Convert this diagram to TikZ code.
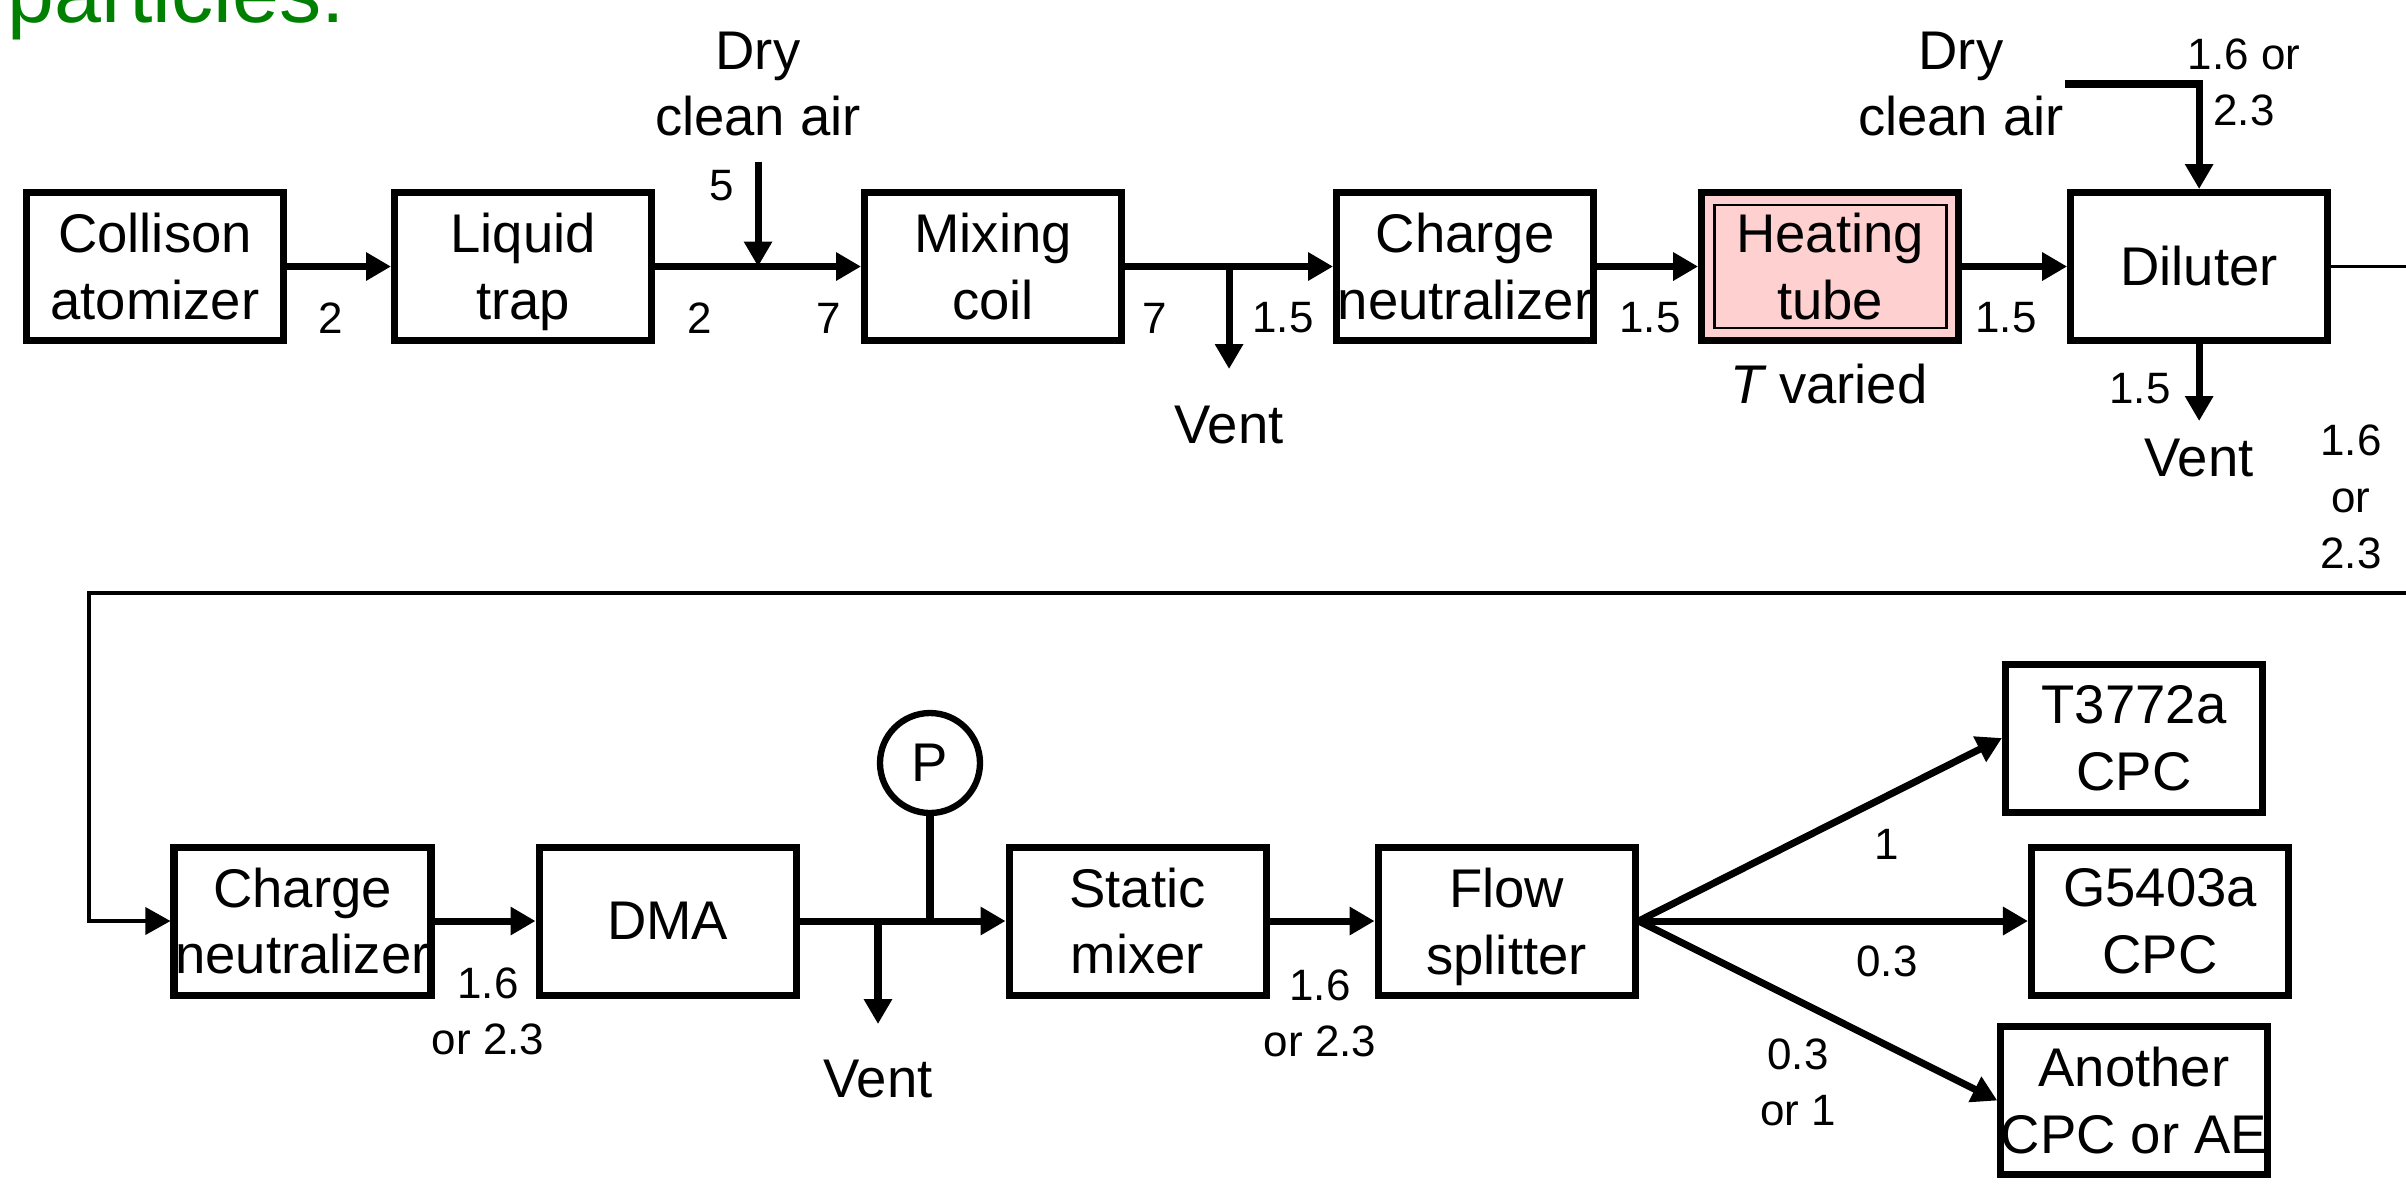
\documentclass[tikz,border=0pt]{standalone}
\usepackage{fontspec}
\setmainfont{Liberation Sans}
\usepackage{tikz}
\usetikzlibrary{arrows.meta, positioning, calc}

\definecolor{heatpink}{RGB}{255,208,208}
\definecolor{titlegreen}{RGB}{0,128,0}

\begin{document}
\begin{tikzpicture}[
			box/.style={draw, line width=2pt, minimum width=2.57cm, minimum height=1.48cm,
				inner sep=0pt, align=center, font=\fontsize{15.5}{19}\selectfont},
			flow/.style={line width=2pt, -{Triangle[length=2.5mm,width=2.7mm]}},
			lab/.style={inner sep=0pt, align=center, font=\fontsize{12.5}{16}\selectfont},
			txt/.style={inner sep=0pt, align=center, font=\fontsize{15.5}{19}\selectfont}
			]
			\path[use as bounding box, clip] (0,0) rectangle (24.06,-11.85);
			\node[anchor=base west, inner sep=0pt, text=titlegreen, font=\fontsize{24}{28}\selectfont] (title) at (0.065,-0.22) {particles:};
			% Prima riga
			\node[box] (CA) at (1.55,-2.665) {Collison\\atomizer};
			\node[box, right=1.04cm of CA] (LT) {Liquid\\\smash{trap}};
			\node[box, right=2.06cm of LT] (MC) {Mixing\\coil};
			\node[box, right=2.08cm of MC] (CN1) {Charge\\neutralizer};
			\node[box, right=1.01cm of CN1, fill=heatpink] (HT) {Heating\\tube};
			\node[box, right=1.05cm of HT] (D) {Diluter};
			\draw[line width=0.8pt] ([shift={(0.16,-0.16)}]HT.north west) rectangle ([shift={(-0.16,0.16)}]HT.south east);
			\node[txt] (Tv) at (18.29,-3.84) {{\itshape T} varied};
			% aria e sfiati della prima riga
			\coordinate (J1) at ($(LT.east)!0.5!(MC.west)$);
			\coordinate (J2) at ($(MC.east)!0.5!(CN1.west)$);
			\coordinate (A1) at (J1 |- 0,-1.62);
			\coordinate (V1t) at (J2 |- 0,-3.69);
			\coordinate (A2) at (20.65,-0.84);
			\coordinate (V2t) at (D.south |- 0,-4.21);
			\node[txt] (air1) at (7.58,-0.84) {Dry\\clean air};
			\node[txt] (air2) at (19.61,-0.84) {Dry\\clean air};
			\node[txt] (V1) at (J2 |- 0,-4.25) {Vent};
			\node[txt] (V2) at (D.south |- 0,-4.58) {Vent};
			\draw[flow] (CA) -- (LT);
			\draw[flow] (LT) -- (MC);
			\draw[flow] (A1) -- (J1);
			\draw[flow] (MC) -- (CN1);
			\draw[flow] (J2) -- (V1t);
			\draw[flow] (CN1) -- (HT);
			\draw[flow] (HT) -- (D);
			\draw[flow] (A2) -| (D.north);
			\draw[flow] (D.south) -- (V2t);
			% portate della prima riga
			\node[lab] (q1) at (3.31,-3.18) {2};
			\node[lab] (q2) at (7.00,-3.18) {2};
			\node[lab] (q3) at (7.22,-1.86) {5};
			\node[lab] (q4) at (8.29,-3.18) {7};
			\node[lab] (q5) at (11.55,-3.18) {7};
			\node[lab] (q6) at (12.83,-3.18) {1.5};
			\node[lab] (q7) at (16.50,-3.18) {1.5};
			\node[lab] (q8) at (20.06,-3.18) {1.5};
			\node[lab] (q9) at (22.44,-0.82) {1.6 or\\2.3};
			\node[lab] (q10) at (21.40,-3.89) {1.5};
			\node[lab] (q11) at (23.51,-4.97) {1.6\\or\\2.3};
			% Seconda riga
			\node[box] (CN2) at (3.025,-9.21) {Charge\\neutralizer};
			\node[box, right=1.01cm of CN2] (DMA) {DMA};
			\node[box, right=2.06cm of DMA] (SM) {Static\\mixer};
			\node[box, right=1.05cm of SM] (FS) {Flow\\\smash{splitter}};
			\node[box] (C1) at (21.34,-7.38) {T3772a\\CPC};
			\node[box] (C2) at (21.60,-9.21) {G5403a\\CPC};
			\node[box] (C3) at (21.34,-11.005) {Another\\CPC or AE};
			\node[draw, circle, line width=1.8pt, minimum size=1.0cm, inner sep=0pt,
				font=\fontsize{15.5}{19}\selectfont] (P) at (9.30,-7.63) {P};
			% ritorno dal diluitore
			\coordinate (R1) at (24.5,-5.93);
			\coordinate (L1) at (0.89,-5.93);
			\draw[flow, line width=1pt] (D.east) -| (R1) -- (L1) |- (CN2.west);
			% sfiato e pompa
			\coordinate (J3) at (8.78,-9.21);
			\coordinate (J4) at (P.south |- J3);
			\coordinate (V3t) at (8.78,-10.24);
			\node[txt] (V3) at (8.78,-10.79) {Vent};
			\draw[flow] (CN2) -- (DMA);
			\draw[flow] (DMA) -- (SM);
			\draw[flow] (J3) -- (V3t);
			\draw[line width=2pt] (P) -- (J4);
			\draw[flow] (SM) -- (FS);
			\draw[flow] (FS.east) -- (C1.west);
			\draw[flow] (FS.east) -- (C2.west);
			\draw[flow] (FS.east) -- (C3.west);
			% portate della seconda riga
			\node[lab] (q12) at (4.88,-10.11) {1.6\\or 2.3};
			\node[lab] (q13) at (13.20,-10.13) {1.6\\or 2.3};
			\node[lab] (q14) at (18.87,-8.44) {1};
			\node[lab] (q15) at (18.87,-9.61) {0.3};
			\node[lab] (q16) at (17.98,-10.82) {0.3\\or 1};
		\end{tikzpicture}
\end{document}
